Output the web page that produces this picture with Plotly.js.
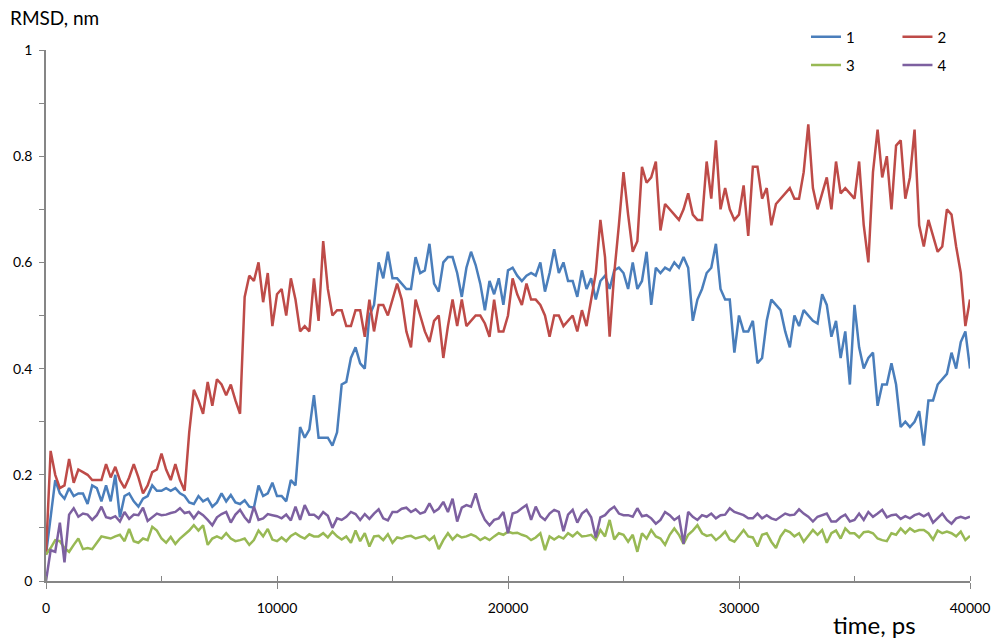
<!DOCTYPE html>
<html>
<head>
<meta charset="utf-8">
<script src="https://cdn.plot.ly/plotly-3.0.1.min.js"></script>
<style>html,body{margin:0;padding:0;background:#fff;}#chart{width:1001px;height:640px;}</style>
</head>
<body>
<div id="chart"></div>
<script>
// time step between samples, ps
const timeStep = 200;
const seriesNames = ["1", "2", "3", "4"];
const seriesColors = ["#4a7ebb", "#be4b48", "#98b954", "#7d60a0"];

const rmsd1 = [
0.05,0.12,0.19,0.165,0.155,0.175,0.16,0.165,0.165,0.145,
0.18,0.175,0.15,0.18,0.15,0.20,0.12,0.16,0.165,0.15,
0.14,0.155,0.16,0.18,0.17,0.17,0.175,0.17,0.175,0.165,
0.16,0.148,0.145,0.16,0.15,0.155,0.14,0.148,0.165,0.15,
0.162,0.148,0.145,0.152,0.14,0.138,0.18,0.16,0.165,0.185,
0.16,0.16,0.15,0.19,0.18,0.29,0.27,0.285,0.35,0.27,
0.27,0.27,0.255,0.28,0.37,0.375,0.42,0.44,0.41,0.40,
0.50,0.52,0.60,0.57,0.62,0.57,0.57,0.56,0.55,0.55,
0.61,0.58,0.585,0.635,0.56,0.545,0.60,0.61,0.61,0.58,
0.535,0.59,0.62,0.595,0.56,0.51,0.565,0.54,0.57,0.52,
0.585,0.59,0.575,0.565,0.575,0.58,0.575,0.60,0.545,0.58,
0.625,0.58,0.60,0.565,0.565,0.535,0.585,0.55,0.57,0.53,
0.565,0.575,0.55,0.585,0.59,0.58,0.55,0.60,0.55,0.565,
0.62,0.52,0.59,0.58,0.59,0.585,0.60,0.59,0.61,0.59,
0.49,0.53,0.55,0.58,0.59,0.635,0.55,0.53,0.53,0.43,
0.50,0.47,0.47,0.49,0.41,0.42,0.49,0.53,0.52,0.51,
0.47,0.44,0.50,0.48,0.51,0.50,0.49,0.485,0.54,0.52,
0.46,0.49,0.42,0.47,0.37,0.52,0.44,0.40,0.42,0.43,
0.33,0.37,0.37,0.41,0.37,0.29,0.30,0.29,0.30,0.32,
0.255,0.34,0.34,0.37,0.38,0.39,0.43,0.40,0.45,0.47,
0.40];

const rmsd2 = [
0.05,0.245,0.20,0.175,0.18,0.23,0.185,0.21,0.205,0.20,
0.19,0.19,0.19,0.22,0.195,0.215,0.19,0.175,0.195,0.22,
0.195,0.165,0.18,0.205,0.21,0.24,0.21,0.19,0.22,0.19,
0.17,0.28,0.36,0.34,0.315,0.375,0.33,0.38,0.37,0.35,
0.37,0.34,0.315,0.535,0.575,0.565,0.60,0.525,0.58,0.48,
0.54,0.55,0.50,0.57,0.53,0.47,0.48,0.47,0.57,0.49,
0.64,0.55,0.50,0.51,0.51,0.48,0.48,0.51,0.51,0.46,
0.53,0.47,0.52,0.52,0.50,0.53,0.56,0.53,0.47,0.44,
0.53,0.50,0.47,0.45,0.49,0.50,0.42,0.48,0.53,0.48,
0.53,0.48,0.49,0.50,0.50,0.485,0.46,0.53,0.47,0.47,
0.50,0.57,0.54,0.52,0.56,0.53,0.53,0.52,0.50,0.46,
0.50,0.50,0.48,0.49,0.50,0.47,0.51,0.48,0.53,0.58,
0.68,0.61,0.46,0.58,0.67,0.77,0.69,0.62,0.64,0.78,
0.75,0.76,0.79,0.66,0.71,0.70,0.69,0.68,0.70,0.73,
0.69,0.68,0.68,0.79,0.72,0.83,0.70,0.74,0.70,0.68,
0.69,0.745,0.65,0.78,0.78,0.72,0.74,0.67,0.71,0.72,
0.73,0.74,0.72,0.72,0.77,0.86,0.74,0.70,0.73,0.76,
0.70,0.79,0.73,0.74,0.73,0.72,0.79,0.67,0.60,0.77,
0.85,0.76,0.80,0.70,0.82,0.83,0.72,0.76,0.85,0.67,
0.63,0.68,0.65,0.62,0.63,0.70,0.69,0.63,0.58,0.48,
0.53];

const rmsd3 = [
0.05,0.062,0.077,0.075,0.062,0.055,0.068,0.08,0.06,0.062,
0.06,0.072,0.084,0.082,0.08,0.084,0.087,0.075,0.098,0.075,
0.072,0.08,0.077,0.102,0.095,0.08,0.072,0.083,0.07,0.08,
0.088,0.095,0.105,0.095,0.105,0.068,0.08,0.084,0.08,0.09,
0.08,0.075,0.077,0.08,0.068,0.077,0.095,0.084,0.098,0.078,
0.075,0.082,0.075,0.085,0.09,0.084,0.08,0.088,0.084,0.084,
0.09,0.082,0.093,0.084,0.078,0.084,0.072,0.095,0.075,0.09,
0.065,0.084,0.085,0.077,0.088,0.072,0.082,0.08,0.084,0.085,
0.08,0.082,0.085,0.077,0.084,0.06,0.077,0.09,0.078,0.087,
0.082,0.084,0.088,0.084,0.077,0.082,0.077,0.084,0.09,0.087,
0.093,0.09,0.091,0.087,0.084,0.077,0.082,0.09,0.058,0.084,
0.078,0.084,0.08,0.09,0.084,0.092,0.084,0.085,0.087,0.078,
0.096,0.084,0.115,0.078,0.09,0.087,0.074,0.087,0.055,0.09,
0.08,0.096,0.084,0.08,0.068,0.087,0.099,0.087,0.07,0.087,
0.095,0.105,0.09,0.085,0.087,0.077,0.084,0.093,0.078,0.074,
0.084,0.096,0.084,0.082,0.065,0.087,0.09,0.074,0.062,0.084,
0.096,0.092,0.084,0.09,0.074,0.084,0.096,0.087,0.096,0.072,
0.09,0.095,0.08,0.099,0.09,0.09,0.082,0.092,0.093,0.09,
0.08,0.077,0.075,0.09,0.087,0.099,0.09,0.099,0.093,0.096,
0.096,0.09,0.078,0.095,0.09,0.093,0.09,0.084,0.093,0.077,
0.085];

const rmsd4 = [
0.0,0.058,0.055,0.11,0.035,0.125,0.137,0.121,0.127,0.125,
0.115,0.124,0.14,0.12,0.118,0.122,0.112,0.13,0.117,0.125,
0.124,0.138,0.113,0.12,0.127,0.124,0.125,0.128,0.13,0.137,
0.128,0.13,0.118,0.13,0.124,0.115,0.105,0.12,0.126,0.13,
0.11,0.125,0.134,0.12,0.11,0.14,0.115,0.118,0.126,0.124,
0.122,0.118,0.125,0.114,0.14,0.115,0.143,0.125,0.125,0.118,
0.13,0.123,0.10,0.118,0.115,0.121,0.13,0.126,0.115,0.126,
0.117,0.127,0.135,0.118,0.114,0.13,0.13,0.136,0.138,0.13,
0.135,0.127,0.13,0.146,0.13,0.136,0.149,0.13,0.155,0.112,
0.138,0.143,0.14,0.165,0.134,0.115,0.105,0.115,0.118,0.13,
0.09,0.127,0.13,0.137,0.143,0.115,0.14,0.122,0.115,0.127,
0.134,0.13,0.094,0.125,0.134,0.11,0.127,0.134,0.12,0.082,
0.12,0.124,0.134,0.14,0.127,0.124,0.124,0.121,0.137,0.122,
0.124,0.118,0.108,0.115,0.13,0.124,0.115,0.121,0.07,0.13,
0.121,0.115,0.124,0.121,0.127,0.118,0.124,0.125,0.137,0.13,
0.127,0.124,0.118,0.118,0.127,0.118,0.124,0.118,0.115,0.121,
0.127,0.124,0.125,0.135,0.127,0.121,0.112,0.121,0.124,0.127,
0.112,0.112,0.12,0.125,0.112,0.115,0.127,0.115,0.13,0.121,
0.127,0.134,0.12,0.124,0.125,0.117,0.122,0.118,0.124,0.127,
0.122,0.127,0.11,0.118,0.127,0.115,0.108,0.118,0.121,0.118,
0.121];

const allSeries = [rmsd1, rmsd2, rmsd3, rmsd4];
const time = rmsd1.map((_, i) => i * timeStep);

const legendIds = ["legend", "legend2", "legend3", "legend4"];
const traces = allSeries.map((vals, k) => ({
  type: "scatter",
  mode: "lines",
  name: seriesNames[k],
  x: time,
  y: vals,
  line: { color: seriesColors[k], width: 2.5 },
  legend: legendIds[k],
  hoverinfo: "x+y+name"
}));

const axisGray = "#868686";
const fontFam = "Lato, 'Open Sans', sans-serif";

const legendBase = {
  bgcolor: "rgba(0,0,0,0)",
  borderwidth: 0,
  font: { family: fontFam, size: 15, color: "#000" },
  xanchor: "left",
  yanchor: "middle",
  orientation: "v"
};
const colLeft = 0.8225, colRight = 0.9215, rowTop = 1.0245, rowBottom = 0.9715;

const layout = {
  width: 1001,
  height: 640,
  margin: { l: 46, r: 31, t: 50, b: 59 },
  paper_bgcolor: "#ffffff",
  plot_bgcolor: "#ffffff",
  showlegend: true,
  font: { family: fontFam, color: "#000" },
  xaxis: {
    range: [0, 40000],
    showgrid: false,
    zeroline: false,
    showline: true,
    linecolor: axisGray,
    linewidth: 1.5,
    ticks: "outside",
    ticklen: 6,
    tickwidth: 1,
    tickcolor: axisGray,
    tick0: 0,
    dtick: 10000,
    tickformat: "d",
    ticklabelstandoff: 7,
    tickfont: { family: fontFam, size: 14, color: "#000" },
    minor: { dtick: 5000, ticks: "inside", ticklen: 5, tickcolor: axisGray, showgrid: false }
  },
  yaxis: {
    range: [0, 1],
    showgrid: false,
    zeroline: false,
    showline: true,
    linecolor: axisGray,
    linewidth: 1.5,
    ticks: "outside",
    ticklen: 5,
    tickwidth: 1,
    tickcolor: axisGray,
    tick0: 0,
    dtick: 0.2,
    ticklabelstandoff: 4,
    tickfont: { family: fontFam, size: 14, color: "#000" },
    minor: { dtick: 0.1, ticks: "outside", ticklen: 5, tickcolor: axisGray, showgrid: false }
  },
  legend:  Object.assign({}, legendBase, { x: colLeft,  y: rowTop }),
  legend2: Object.assign({}, legendBase, { x: colRight, y: rowTop }),
  legend3: Object.assign({}, legendBase, { x: colLeft,  y: rowBottom }),
  legend4: Object.assign({}, legendBase, { x: colRight, y: rowBottom }),
  annotations: [
    { text: "RMSD, nm", xref: "paper", yref: "paper", x: -0.0411, y: 1.0603,
      xanchor: "left", yanchor: "middle", showarrow: false,
      font: { family: fontFam, size: 19, color: "#000" } },
    { text: "time, ps", xref: "paper", yref: "paper", x: 0.8495, y: -0.081,
      xanchor: "left", yanchor: "middle", showarrow: false,
      font: { family: fontFam, size: 24, color: "#000" } }
  ]
};

Plotly.newPlot("chart", traces, layout, { displayModeBar: false });
</script>
</body>
</html>
